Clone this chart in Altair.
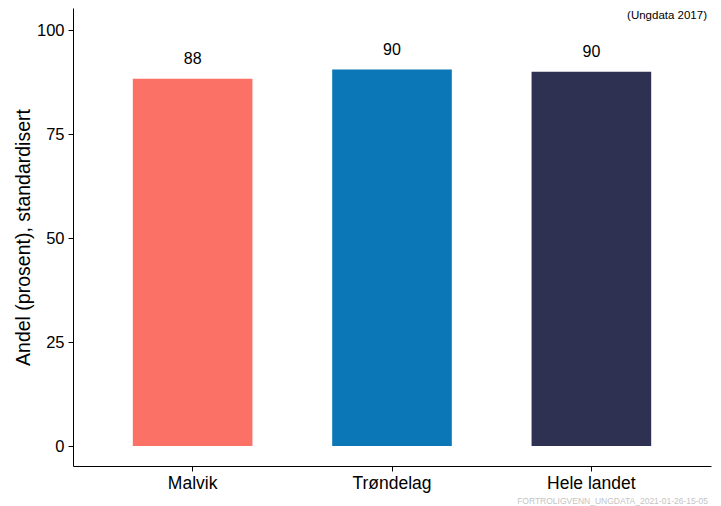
import altair as alt
import pandas as pd

categories = ["Malvik", "Trøndelag", "Hele landet"]
values = [88.3, 90.5, 90.0]
labels = ["88", "90", "90"]
colors = ["#FC7166", "#0B77B6", "#2F3152"]

df = pd.DataFrame({"cat": categories, "val": values, "lab": labels})

FONT = "Liberation Sans"

x = alt.X("cat:N", sort=categories, title=None,
          scale=alt.Scale(paddingInner=0.4, paddingOuter=0.3),
          axis=alt.Axis(labelAngle=0, labelFontSize=17.5, labelFont=FONT, labelColor="#000",
                        tickColor="#000", tickSize=5, domainColor="#000", labelPadding=3))
y = alt.Y("val:Q", title="Andel (prosent), standardisert",
          scale=alt.Scale(domain=[-4.8, 105.3], nice=False, zero=False),
          axis=alt.Axis(values=[0, 25, 50, 75, 100], grid=False, labelFontSize=16.5,
                        labelFont=FONT, labelColor="#000", tickColor="#000", tickSize=5,
                        domainColor="#000", titleFontSize=19.5, titleFont=FONT,
                        titleFontWeight="normal", titleColor="#000", titleX=-40,
                        titleBaseline="bottom", labelPadding=4))

bars = alt.Chart(df).mark_bar(clip=True).encode(
    x=x, y=y, y2=alt.datum(0),
    color=alt.Color("cat:N", scale=alt.Scale(domain=categories, range=colors), legend=None),
)

text = alt.Chart(df).mark_text(baseline="bottom", dy=-12, fontSize=16, font=FONT, color="#000").encode(
    x=alt.X("cat:N", sort=categories), y="val:Q", text="lab:N")

note = alt.Chart(pd.DataFrame({"t": ["(Ungdata 2017)"]})).mark_text(
    align="right", baseline="middle", fontSize=11.5, font=FONT, color="#000").encode(
    x=alt.value(634), y=alt.value(8), text="t:N")

footer = alt.Chart(pd.DataFrame({"t": ["FORTROLIGVENN_UNGDATA_2021-01-26-15-05"]})).mark_text(
    align="right", baseline="middle", fontSize=8.5, font=FONT, color="#C4C4C4").encode(
    x=alt.value(635), y=alt.value(493), text="t:N")

chart = alt.layer(bars, text, note, footer).properties(
    width=638, height=458,
    autosize=alt.AutoSizeParams(type="none"),
    padding={"left": 65, "top": 0, "right": 2, "bottom": 40},
).configure(background="white", view=alt.ViewConfig(stroke=None))

chart.save("out.html", embed_options={"renderer": "svg", "actions": False})
